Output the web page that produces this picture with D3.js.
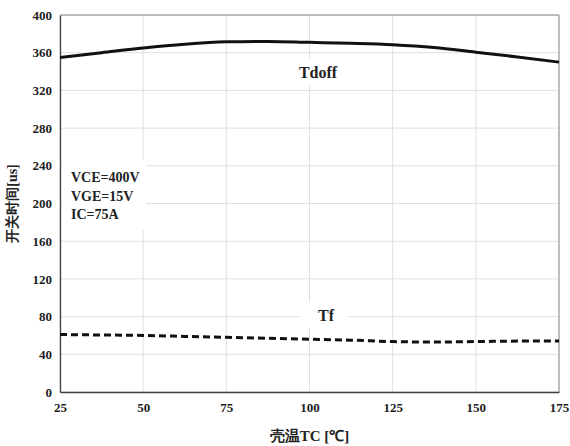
<!DOCTYPE html>
<html>
<head>
<meta charset="utf-8">
<script src="https://cdn.jsdelivr.net/npm/d3@7"></script>
<style>
  body { margin: 0; background: #fff; }
  svg text { font-family: "Liberation Serif", "Times New Roman", serif; font-weight: bold; fill: #222; }
</style>
</head>
<body>
<svg id="chart" width="570" height="446"></svg>
<script>
// Case temperature (°C)
const temps = [25, 37.5, 50, 62.5, 75, 87.5, 100, 112.5, 125, 137.5, 150, 162.5, 175];
// Turn-off delay time (ns)
const tdoff = [355, 360, 365, 369, 371.5, 372, 371, 370, 368.5, 365.5, 360.5, 355.5, 350];
// Fall time (ns)
const tf = [61, 60.5, 60, 59, 58, 57, 56, 55, 53.5, 53, 53.5, 54, 54];
const xTicks = [25, 50, 75, 100, 125, 150, 175];
const yTicks = [0, 40, 80, 120, 160, 200, 240, 280, 320, 360, 400];
const conditions = ["VCE=400V", "VGE=15V", "IC=75A"];

const svg = d3.select("#chart");
const m = { left: 60, right: 11, top: 15, bottom: 54 };
const W = 570, H = 446;
const x = d3.scaleLinear().domain([25, 175]).range([m.left, W - m.right]);
const y = d3.scaleLinear().domain([0, 400]).range([H - m.bottom, m.top]);

// gridlines
const grid = svg.append("g");
grid.selectAll("line.h").data(yTicks).join("line")
  .attr("x1", x(25)).attr("x2", x(175))
  .attr("y1", d => y(d)).attr("y2", d => y(d))
  .attr("stroke", "#e0e0e0").attr("stroke-width", 1);
grid.selectAll("line.v").data(xTicks).join("line")
  .attr("y1", y(0)).attr("y2", y(400))
  .attr("x1", d => x(d)).attr("x2", d => x(d))
  .attr("stroke", "#e0e0e0").attr("stroke-width", 1);

// frame
svg.append("line").attr("x1", x(25)).attr("x2", x(175)).attr("y1", y(400)).attr("y2", y(400)).attr("stroke", "#8c8c8c");
svg.append("line").attr("x1", x(175)).attr("x2", x(175)).attr("y1", y(0)).attr("y2", y(400)).attr("stroke", "#8c8c8c");

// white boxes behind annotations
svg.append("rect").attr("x", 62).attr("y", 160).attr("width", 84).attr("height", 70).attr("fill", "#fff");
svg.append("rect").attr("x", 280).attr("y", 58).attr("width", 94).attr("height", 28).attr("fill", "#fff");
svg.append("rect").attr("x", 300).attr("y", 302).attr("width", 48).attr("height", 26).attr("fill", "#fff");

// axes
const xAxis = d3.axisBottom(x).tickValues(xTicks).tickSize(0).tickPadding(11);
const yAxis = d3.axisLeft(y).tickValues(yTicks).tickSize(0).tickPadding(8);
const gx = svg.append("g").attr("transform", `translate(0,${y(0)})`).call(xAxis);
const gy = svg.append("g").attr("transform", `translate(${x(25)},0)`).call(yAxis);
[gx, gy].forEach(g => {
  g.select(".domain").attr("stroke", "#404040").attr("stroke-width", 1.3);
  g.selectAll("text").style("font-size", "13px").attr("fill", "#222");
});

// curves
const line = d3.line().x((d, i) => x(temps[i])).y(d => y(d)).curve(d3.curveMonotoneX);
svg.append("path").attr("d", line(tdoff)).attr("fill", "none")
  .attr("stroke", "#111").attr("stroke-width", 3);
svg.append("path").attr("d", line(tf)).attr("fill", "none")
  .attr("stroke", "#111").attr("stroke-width", 3).attr("stroke-dasharray", "7,4");

// series labels
svg.append("text").attr("x", 318).attr("y", 78).attr("text-anchor", "middle")
  .style("font-size", "16px").text("Tdoff");
svg.append("text").attr("x", 326).attr("y", 321).attr("text-anchor", "middle")
  .style("font-size", "16px").text("Tf");

// test conditions
svg.append("g").selectAll("text").data(conditions).join("text")
  .attr("x", 71).attr("y", (d, i) => 182 + i * 18.5)
  .style("font-size", "14px").text(d => d);

// axis titles
svg.append("text").attr("x", x(100)).attr("y", 441).attr("text-anchor", "middle")
  .style("font-size", "15px").text("壳温TC [℃]");
svg.append("text").attr("transform", `translate(17,${y(200)}) rotate(-90)`)
  .attr("text-anchor", "middle").style("font-size", "14px").text("开关时间[us]");
</script>
</body>
</html>
